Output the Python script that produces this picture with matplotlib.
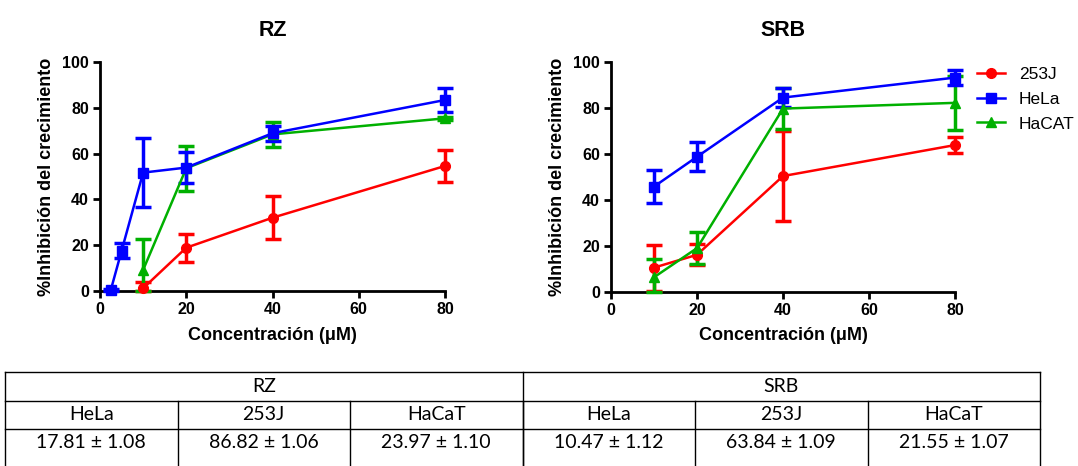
import numpy as np
import matplotlib
matplotlib.use("Agg")
import matplotlib.pyplot as plt

plt.rcParams['font.family'] = ['Liberation Sans', 'DejaVu Sans']

# RZ panel
rz_x_hela = [2.5, 5, 10, 20, 40, 80]
rz_hela = [0.4, 17.5, 51.7, 53.9, 68.9, 83.4]
rz_hela_err = [0.5, 3.3, 15.0, 6.8, 3.3, 5.4]
rz_x = [10, 20, 40, 80]
rz_253j = [1.2, 18.9, 32.0, 54.6]
rz_253j_err = [2.6, 6.2, 9.3, 6.8]
rz_hacat = [9.2, 53.6, 68.4, 75.4]
rz_hacat_err = [13.4, 9.8, 5.3, 0.8]

# SRB panel
srb_x = [10, 20, 40, 80]
srb_hela = [45.7, 58.7, 84.5, 93.2]
srb_hela_err = [7.1, 6.3, 4.0, 3.4]
srb_253j = [10.4, 16.0, 50.3, 63.8]
srb_253j_err = [10.0, 4.5, 19.7, 3.6]
srb_hacat = [6.2, 18.9, 79.7, 82.2]
srb_hacat_err = [7.9, 6.9, 9.1, 11.8]

# IC50 table
groups = ["RZ", "SRB"]
lines = ["HeLa", "253J", "HaCaT"]
ic50 = ["17.81 ± 1.08", "86.82 ± 1.06", "23.97 ± 1.10",
        "10.47 ± 1.12", "63.84 ± 1.09", "21.55 ± 1.07"]

RED, BLUE, GREEN = "#ff0000", "#0000ff", "#00b000"

fig = plt.figure(figsize=(10.78, 4.66), dpi=100)
W, H = 1078, 466
ax1 = fig.add_axes([100 / W, 1 - 291 / H, 345 / W, 229 / H])
ax2 = fig.add_axes([611 / W, 1 - 291.5 / H, 344 / W, 229.5 / H])


def series(ax, x, y, e, color, marker, label):
    y = np.array(y)
    e = np.array(e)
    # bars stop at the x axis, as in the original
    lower = np.minimum(e, y)
    return ax.errorbar(x, y, yerr=[lower, e], color=color, marker=marker, ms=7,
                       lw=1.8, elinewidth=2.5, capsize=6, capthick=2.5,
                       clip_on=False, label=label, zorder=3)


def style(ax, title):
    ax.set_xlim(0, 80)
    ax.set_ylim(0, 100)
    ax.set_xticks([0, 20, 40, 60, 80])
    ax.set_yticks([0, 20, 40, 60, 80, 100])
    for s in ["top", "right"]:
        ax.spines[s].set_visible(False)
    for s in ["left", "bottom"]:
        ax.spines[s].set_linewidth(2)
    ax.tick_params(width=2, length=5, labelsize=11.5, pad=3)
    for lab in ax.get_xticklabels() + ax.get_yticklabels():
        lab.set_fontweight("bold")
    ax.set_title(title, fontsize=15.5, fontweight="bold", pad=19)
    ax.set_xlabel("Concentración (μM)", fontsize=13, fontweight="bold", labelpad=7)
    ax.set_ylabel("%Inhibición del crecimiento", fontsize=13, fontweight="bold", labelpad=5)


series(ax1, rz_x, rz_253j, rz_253j_err, RED, "o", "253J")
series(ax1, rz_x, rz_hacat, rz_hacat_err, GREEN, "^", "HaCAT")
series(ax1, rz_x_hela, rz_hela, rz_hela_err, BLUE, "s", "HeLa")
style(ax1, "RZ")

h1 = series(ax2, srb_x, srb_253j, srb_253j_err, RED, "o", "253J")
h3 = series(ax2, srb_x, srb_hacat, srb_hacat_err, GREEN, "^", "HaCAT")
h2 = series(ax2, srb_x, srb_hela, srb_hela_err, BLUE, "s", "HeLa")
style(ax2, "SRB")

fig.legend([h1[0], h2[0], h3[0]], ["253J", "HeLa", "HaCAT"], loc="upper left",
           bbox_to_anchor=(977 / W, 1 - 67 / H), frameon=False, fontsize=12.5,
           prop={"family": ["Liberation Sans"], "size": 12.5},
           handlelength=1.6, handletextpad=0.8, labelspacing=0.55,
           borderpad=0, borderaxespad=0)

# table
tab = fig.add_axes([0, 0, 1, 1], zorder=-1)
tab.set_xlim(0, W)
tab.set_ylim(H, 0)
tab.axis("off")
left, right, mid = 5, 1040, 522.5
rows = [372, 400.5, 429, 475]
cols = np.linspace(left, right, 7)
for y in rows:
    tab.plot([left, right], [y, y], color="black", lw=1, clip_on=False)
tab.plot([left, left], [rows[0], rows[-1]], color="black", lw=1)
tab.plot([right, right], [rows[0], rows[-1]], color="black", lw=1)
tab.plot([mid, mid], [rows[0], rows[-1]], color="black", lw=1)
for c in cols[1:-1]:
    tab.plot([c, c], [rows[1], rows[-1]], color="black", lw=1)
tfont = dict(family=["Lato", "DejaVu Sans"], fontsize=14, ha="center", va="center")
for i, g in enumerate(groups):
    tab.text((left + mid) / 2 if i == 0 else (mid + right) / 2, 386.5, g, **tfont)
for j in range(6):
    cx = (cols[j] + cols[j + 1]) / 2
    tab.text(cx, 415, lines[j % 3], **tfont)
    tab.text(cx, 443, ic50[j], **tfont)

fig.savefig("out.png", dpi=100)
